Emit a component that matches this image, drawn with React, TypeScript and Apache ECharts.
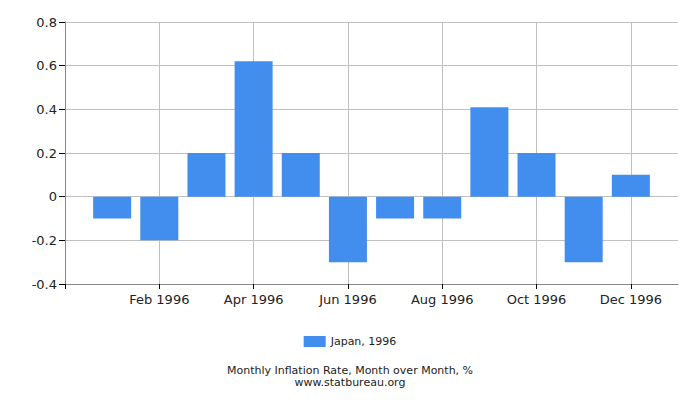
import React, { useEffect, useRef } from "react";
import * as echarts from "echarts";

const months = ["Jan", "Feb", "Mar", "Apr", "May", "Jun", "Jul", "Aug", "Sep", "Oct", "Nov", "Dec"];
const year = "1996";
const values = [-0.1, -0.2, 0.2, 0.62, 0.2, -0.3, -0.1, -0.1, 0.41, 0.2, -0.3, 0.1];
const seriesName = "Japan, 1996";
const titleText = "Monthly Inflation Rate, Month over Month, %";
const subText = "www.statbureau.org";

export default function App() {
  const ref = useRef<HTMLDivElement>(null);
  useEffect(() => {
    if (!ref.current) return;
    const chart = echarts.init(ref.current, undefined, { renderer: "svg" });
    const font = "DejaVu Sans";
    chart.setOption({
      animation: false,
      textStyle: { fontFamily: font },
      grid: { left: 65, right: 22, top: 22, bottom: 116, containLabel: false },
      legend: {
        bottom: 48,
        left: "center",
        itemWidth: 22,
        itemHeight: 11,
        itemGap: 4,
        icon: "rect",
        textStyle: { fontFamily: font, fontSize: 11, color: "#222" },
        data: [seriesName],
      },
      title: {
        text: titleText,
        subtext: subText,
        left: "center",
        bottom: 7,
        itemGap: 0,
        textStyle: { fontFamily: font, fontSize: 11, fontWeight: "normal", color: "#222", lineHeight: 12 },
        subtextStyle: { fontFamily: font, fontSize: 11, color: "#222", lineHeight: 12 },
      },
      xAxis: {
        type: "value",
        min: 0,
        max: 13,
        interval: 2,
        axisLine: { show: true, onZero: false, lineStyle: { color: "#888" } },
        axisTick: { show: true, length: 5, lineStyle: { color: "#000" }, customValues: [0, 2, 4, 6, 8, 10, 12] },
        axisLabel: {
          fontFamily: font,
          fontSize: 13,
          color: "#222",
          margin: 9,
          customValues: [2, 4, 6, 8, 10, 12],
          formatter: (v: number) => {
            const i = Math.round(v) - 1;
            return i >= 0 && i < 12 && Math.round(v) === v ? months[i] + " " + year : "";
          },
        },
        splitLine: { show: true, lineStyle: { color: "#c0c0c0", width: 1 } },
      },
      yAxis: {
        type: "value",
        min: -0.4,
        max: 0.8,
        interval: 0.2,
        axisLine: { show: true, lineStyle: { color: "#888" } },
        axisTick: { show: true, length: 6, lineStyle: { color: "#000" } },
        axisLabel: {
          fontFamily: font,
          fontSize: 13,
          color: "#222",
          margin: 8,
          formatter: (v: number) => {
            const r = Math.round(v * 10) / 10;
            return r === 0 ? "0" : r.toFixed(1);
          },
        },
        splitLine: { show: true, lineStyle: { color: "#c0c0c0", width: 1 } },
      },
      series: [
        {
          name: seriesName,
          type: "bar",
          barWidth: 38,
          itemStyle: { color: "#428eef" },
          data: values.map((v, i) => [i + 1, v]),
        },
      ],
    });
    return () => chart.dispose();
  }, []);
  return <div ref={ref} style={{ width: 700, height: 400, position: "absolute", left: 0, top: 0 }} />;
}
